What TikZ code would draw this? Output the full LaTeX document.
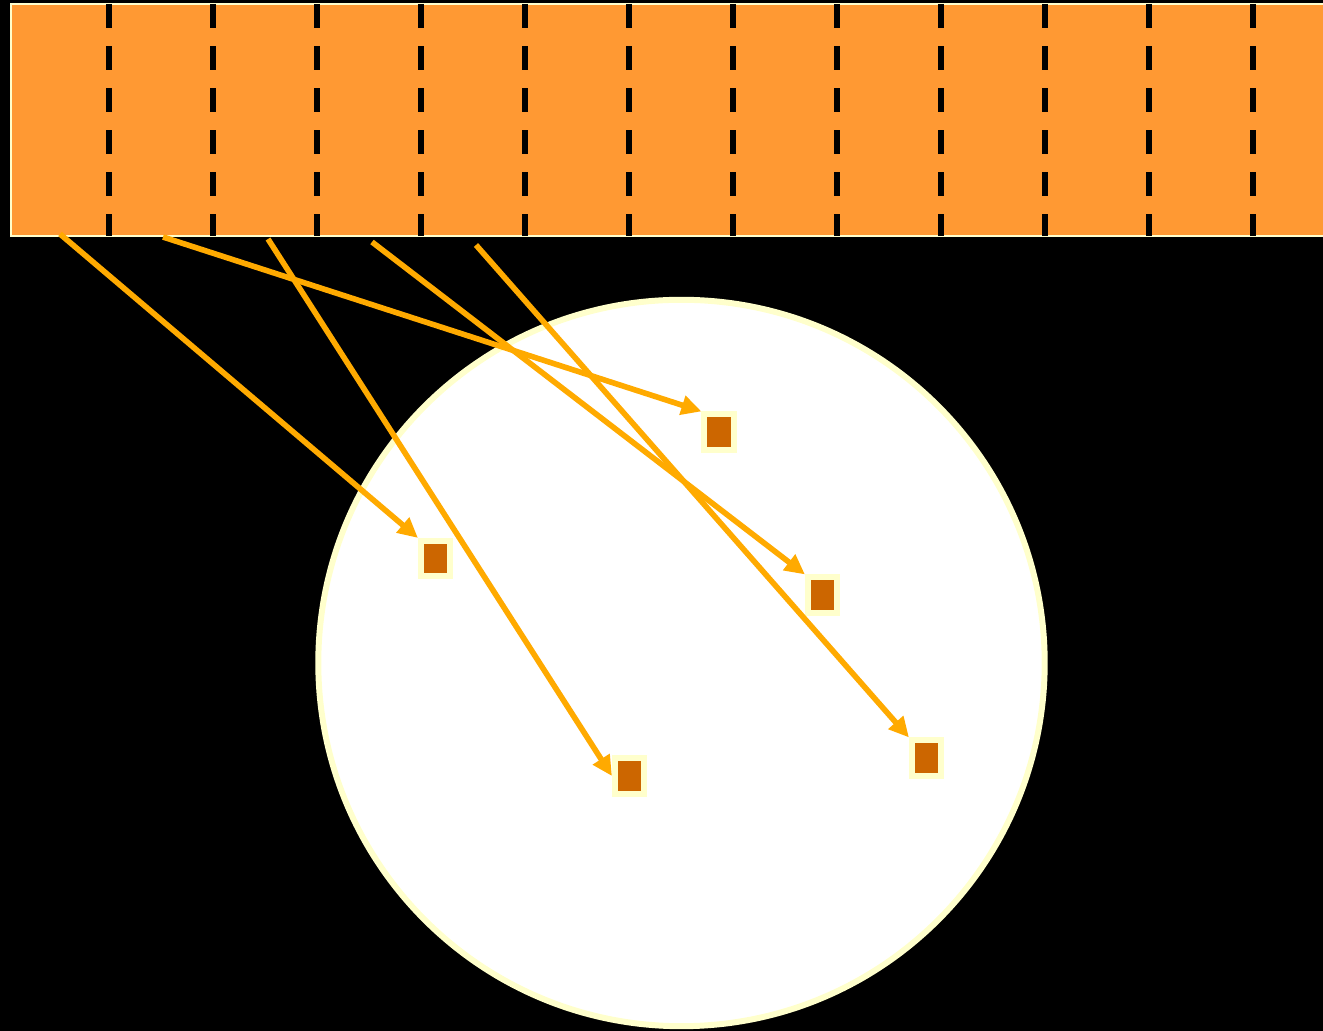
\documentclass[tikz,border=0pt]{standalone}
\usetikzlibrary{arrows.meta}

\definecolor{barorange}{HTML}{FF9933}
\definecolor{linkorange}{HTML}{FFAA00}
\definecolor{cellbrown}{HTML}{CC6600}
\definecolor{paleyellow}{HTML}{FFFFCC}

\tikzset{
  cell/.style={draw=paleyellow, fill=cellbrown, line width=1.6pt, inner sep=0pt,
               minimum width=0.295cm, minimum height=0.355cm},
  link/.style={draw=linkorange, line width=1.6pt,
               -{Triangle[length=2mm, width=1.9mm]}}
}

\begin{document}
\begin{tikzpicture}[x=0.01cm, y=-0.01cm]
  \fill[black] (0,0) rectangle (1323,1031);
  \useasboundingbox (0,0) rectangle (1323,1031);
  \draw[paleyellow, line width=0.5pt, fill=barorange] (11,4) rectangle (1340,236);
  \foreach \x in {109,213,...,1253}
    \draw[black, line width=1.7pt, dash pattern=on 0.24cm off 0.18cm] (\x,4) -- (\x,236);
  \draw[paleyellow, line width=1.7pt, fill=white] (681.5,663) circle[radius=3.63cm];
  \node[cell] (c1) at (435.5,558.5) {};
  \node[cell] (c2) at (719,432) {};
  \node[cell] (c3) at (629.5,776) {};
  \node[cell] (c4) at (822.5,595) {};
  \node[cell] (c5) at (926.5,758) {};
  \coordinate (s1) at (60,234);
  \coordinate (s2) at (163,237);
  \coordinate (s3) at (268,239);
  \coordinate (s4) at (372,242);
  \coordinate (s5) at (476,245);
  \draw[link] (s1) -- (c1.north west);
  \draw[link] (s2) -- (c2.north west);
  \draw[link] (s3) -- (c3.west);
  \draw[link] (s4) -- (c4.north west);
  \draw[link] (s5) -- (c5.north west);
\end{tikzpicture}
\end{document}
